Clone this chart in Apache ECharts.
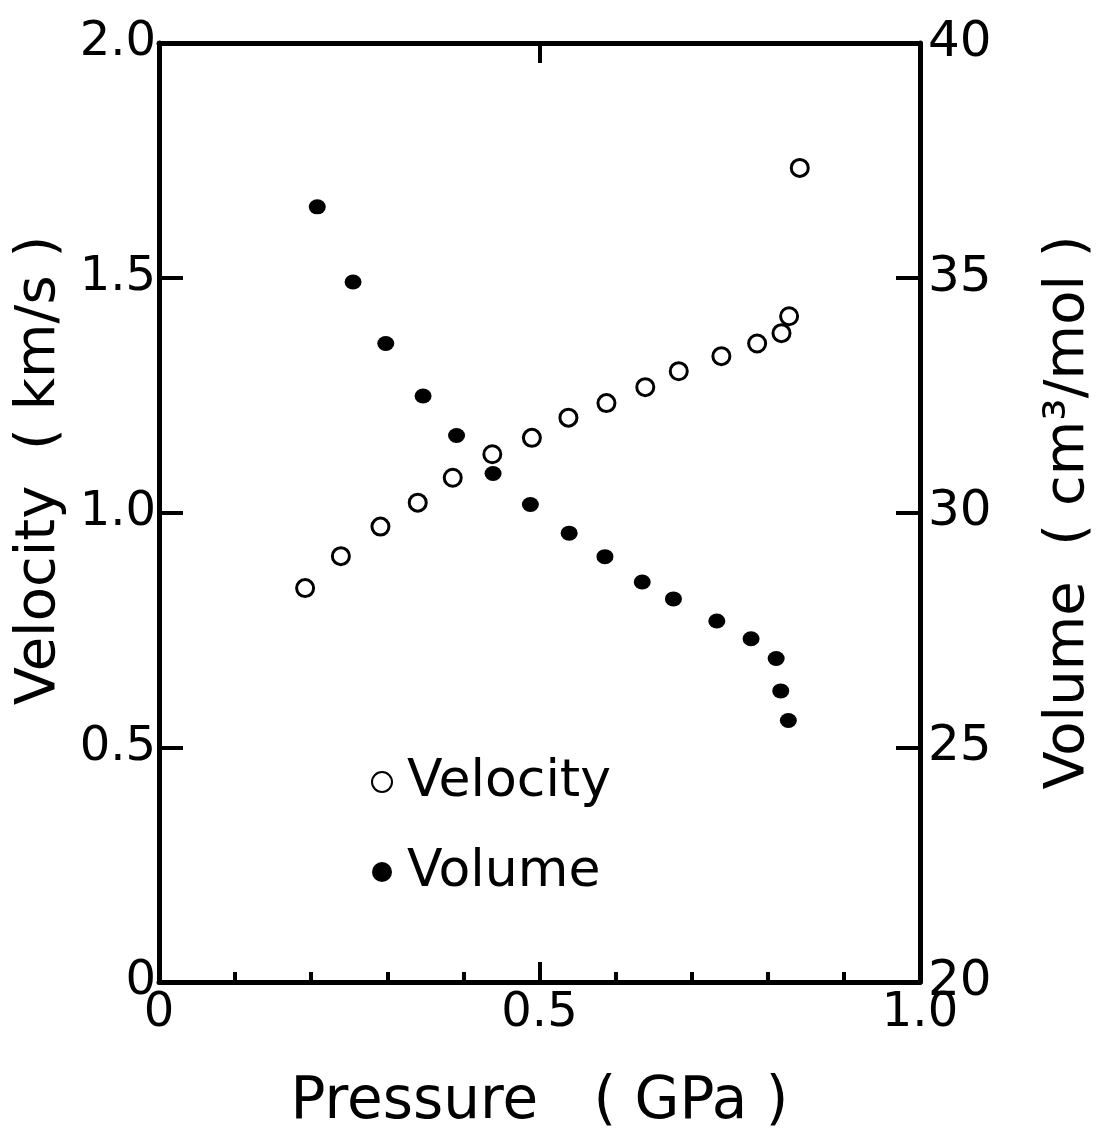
<!DOCTYPE html>
<html>
<head>
<meta charset="utf-8">
<script src="https://cdn.jsdelivr.net/npm/echarts@6/dist/echarts.min.js"></script>
<style>
  html, body { margin: 0; padding: 0; background: #fff; }
  #chart { width: 1104px; height: 1137px; }
</style>
</head>
<body>
<div id="chart"></div>
<script>
// open circles: pressure (GPa) vs velocity (km/s)
var velPressure = [0.192, 0.239, 0.291, 0.340, 0.386, 0.438, 0.490, 0.538, 0.588, 0.639, 0.683, 0.739, 0.786, 0.818, 0.828, 0.842];
var velocity    = [0.839, 0.907, 0.970, 1.021, 1.074, 1.124, 1.159, 1.202, 1.233, 1.267, 1.301, 1.333, 1.360, 1.382, 1.418, 1.734];

// filled circles: pressure (GPa) vs molar volume (cm3/mol)
var volPressure = [0.208, 0.255, 0.298, 0.347, 0.391, 0.439, 0.488, 0.539, 0.586, 0.635, 0.676, 0.733, 0.778, 0.811, 0.817, 0.827];
var volume      = [36.51, 34.91, 33.60, 32.48, 31.64, 30.83, 30.17, 29.56, 29.06, 28.52, 28.16, 27.69, 27.31, 26.89, 26.20, 25.57];

var FONT = '"DejaVu Sans", sans-serif';
var INK = '#000';

function pairs(xs, ys) {
  return xs.map(function (x, i) { return [x, ys[i]]; });
}

var chart = echarts.init(document.getElementById('chart'));

var axisLine = { show: true, onZero: false, lineStyle: { color: INK, width: 5 } };
var tickStyle = { color: INK, width: 4 };

chart.setOption({
  animation: false,
  backgroundColor: '#fff',
  grid: { left: 159, right: 183, top: 43, bottom: 155 },
  legend: {
    orient: 'vertical',
    left: 366,
    top: 751,
    itemWidth: 20,
    itemHeight: 20,
    itemGap: 38,
    textStyle: { fontFamily: FONT, fontSize: 52, lineHeight: 52, color: INK, padding: [0, 0, 0, 10] },
    data: ['Velocity', 'Volume']
  },
  xAxis: [{
    type: 'value',
    position: 'bottom',
    min: 0, max: 1, interval: 0.5,
    name: 'Pressure   ( GPa )',
    nameLocation: 'middle',
    nameGap: 92,
    nameTextStyle: { fontFamily: FONT, fontSize: 58, color: INK },
    axisLine: axisLine,
    axisTick: { show: true, inside: true, length: 20, lineStyle: tickStyle },
    minorTick: { show: true, splitNumber: 5, length: 10, lineStyle: tickStyle },
    axisLabel: {
      fontFamily: FONT, fontSize: 48, color: INK, margin: 8,
      formatter: function (v) { return v === 0 ? '0' : v.toFixed(1); }
    },
    splitLine: { show: false }
  }, {
    type: 'value',
    position: 'top',
    min: 0, max: 1, interval: 0.5,
    axisLine: axisLine,
    axisTick: { show: true, inside: true, length: 20, lineStyle: tickStyle },
    axisLabel: { show: false },
    splitLine: { show: false }
  }],
  yAxis: [{
    type: 'value',
    position: 'left',
    min: 0, max: 2, interval: 0.5,
    name: 'Velocity  ( km/s )',
    nameLocation: 'middle',
    nameGap: 92,
    nameTextStyle: { fontFamily: FONT, fontSize: 56, color: INK, padding: [0, 0, 0, 84] },
    axisLine: axisLine,
    axisTick: { show: true, inside: true, length: 24, lineStyle: tickStyle },
    axisLabel: {
      fontFamily: FONT, fontSize: 48, color: INK, margin: 3,
      formatter: function (v) { return v === 0 ? '0' : v.toFixed(1); }
    },
    splitLine: { show: false }
  }, {
    type: 'value',
    position: 'right',
    min: 20, max: 40, interval: 5,
    name: 'Volume  ( cm³/mol )',
    nameLocation: 'middle',
    nameGap: 120,
    nameRotate: 90,
    nameTextStyle: { fontFamily: FONT, fontSize: 56, color: INK },
    axisLine: axisLine,
    axisTick: { show: true, inside: true, length: 24, lineStyle: tickStyle },
    axisLabel: { fontFamily: FONT, fontSize: 50, color: INK, margin: 8 },
    splitLine: { show: false }
  }],
  series: [{
    name: 'Velocity',
    type: 'scatter',
    xAxisIndex: 0,
    yAxisIndex: 0,
    symbol: 'circle',
    symbolSize: 17,
    itemStyle: { color: '#fff', borderColor: INK, borderWidth: 3, opacity: 1 },
    data: pairs(velPressure, velocity)
  }, {
    name: 'Volume',
    type: 'scatter',
    xAxisIndex: 0,
    yAxisIndex: 1,
    symbol: 'circle',
    symbolSize: [17, 15],
    itemStyle: { color: INK, opacity: 1 },
    data: pairs(volPressure, volume)
  }]
});
</script>
</body>
</html>
